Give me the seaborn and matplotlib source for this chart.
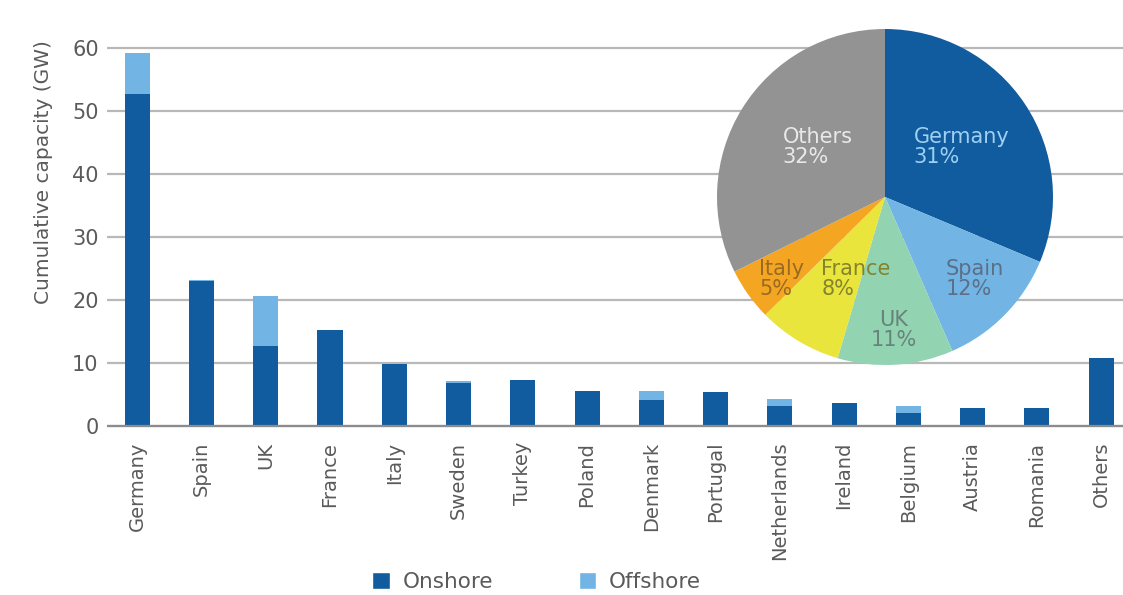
import matplotlib
matplotlib.use("Agg")
import matplotlib.pyplot as plt
import seaborn as sns
import pandas as pd
from matplotlib.patches import Patch

countries = ["Germany", "Spain", "UK", "France", "Italy", "Sweden", "Turkey", "Poland",
             "Denmark", "Portugal", "Netherlands", "Ireland", "Belgium", "Austria", "Romania", "Others"]
onshore = [52.7, 23.0, 12.7, 15.2, 9.8, 6.9, 7.3, 5.6, 4.1, 5.4, 3.2, 3.6, 2.0, 2.8, 2.8, 10.8]
offshore = [6.5, 0.2, 7.9, 0.0, 0.0, 0.2, 0.0, 0.0, 1.5, 0.0, 1.1, 0.1, 1.2, 0.0, 0.0, 0.0]

pie_labels = ["Germany", "Spain", "UK", "France", "Italy", "Others"]
pie_shares = [31, 12, 11, 8, 5, 32]

C_ON = "#115c9e"
C_OFF = "#72b5e4"
pie_colors = ["#115c9e", "#72b5e4", "#92d3b2", "#e9e53c", "#f4a623", "#939393"]
pie_text_colors = ["#9fd0f4", "#5b6f88", "#66857a", "#84842c", "#9a6a22", "#e9e9e9"]

sns.set_theme(style="white")
plt.rcParams["font.family"] = ["DejaVu Sans"]

df = pd.DataFrame({"country": countries, "onshore": onshore,
                   "total": [a + b for a, b in zip(onshore, offshore)]})

PX = 6.3  # pixels per GW
y0_px, y60_px = 426, 48
ymin, ymax = -0.3, 61
bot_px = y0_px - ymin * PX
top_px = y60_px - (ymax - 60) * PX

fig = plt.figure(figsize=(11.23, 5.95), dpi=100)
ax = fig.add_axes([107 / 1123, 1 - bot_px / 595, 1 - 107 / 1123, (bot_px - top_px) / 595])

sns.barplot(data=df, x="country", y="total", color=C_OFF, saturation=1, width=0.39, ax=ax,
            zorder=3, linewidth=0, edgecolor="none")
sns.barplot(data=df, x="country", y="onshore", color=C_ON, saturation=1, width=0.39, ax=ax,
            zorder=4, linewidth=0, edgecolor="none")

ax.set_ylim(ymin, ymax)
ax.set_xlim(-0.47, 15.34)
ax.set_yticks([0, 10, 20, 30, 40, 50, 60])
ax.yaxis.grid(True, color="#b8b8b8", linewidth=1.6, zorder=0)
ax.set_axisbelow(True)
for s in ["top", "right", "left", "bottom"]:
    ax.spines[s].set_visible(False)
ax.axhline(0, color="#8c8c8c", linewidth=1.6, zorder=5)
ax.set_xlabel("")
ax.set_ylabel("Cumulative capacity (GW)", fontsize=14.5, color="#5a5a5a")
ax.yaxis.set_label_coords(-0.053, (bot_px - 172) / (bot_px - top_px))
ax.tick_params(axis="y", labelsize=15, colors="#5a5a5a", pad=6, length=0)
ax.tick_params(axis="x", labelsize=14, colors="#5a5a5a", length=0, pad=10)
for lab in ax.get_xticklabels():
    lab.set_rotation(90)

# Pie inset
r = 168
cx, cy = 885, 197
pax = fig.add_axes([(cx - r) / 1123, 1 - (cy + r) / 595, 2 * r / 1123, 2 * r / 595])
pax.pie(pie_shares, colors=pie_colors, startangle=90, counterclock=False, radius=1.0,
        wedgeprops=dict(linewidth=0))
pax.set_xlim(-1.0, 1.0)
pax.set_ylim(-1.0, 1.0)
pax.set_aspect("equal")
pax.axis("off")

label_pos = {
    "Germany": (0.17, 0.30, "left"),
    "Spain": (0.36, -0.49, "left"),
    "UK": (0.05, -0.79, "center"),
    "France": (-0.38, -0.49, "left"),
    "Italy": (-0.75, -0.49, "left"),
    "Others": (-0.61, 0.30, "left"),
}
for name, share, tc in zip(pie_labels, pie_shares, pie_text_colors):
    x, y, ha = label_pos[name]
    pax.text(x, y, f"{name}\n{share}%", ha=ha, va="center", fontsize=15, color=tc,
             linespacing=1.0)

handles = [Patch(facecolor=C_ON, label="Onshore"), Patch(facecolor=C_OFF, label="Offshore")]
fig.legend(handles=handles, loc="center", bbox_to_anchor=(0.478, 0.022), ncol=2, frameon=False,
           fontsize=15.5, handlelength=0.8, handleheight=0.8, columnspacing=4.0, handletextpad=0.6,
           labelcolor="#5a5a5a")

fig.savefig("out.png", dpi=100)
